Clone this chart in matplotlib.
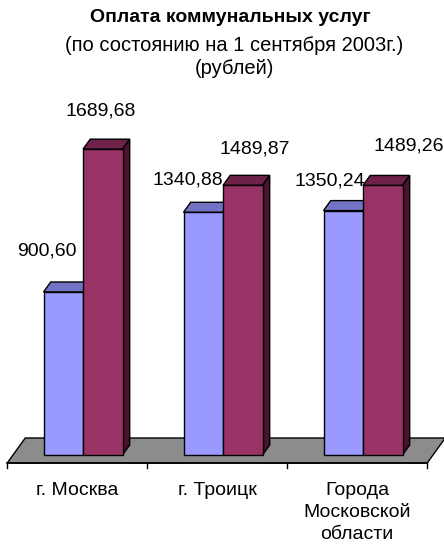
import matplotlib
matplotlib.use('Agg')
import matplotlib.pyplot as plt
from matplotlib.patches import Polygon

plt.rcParams['font.family'] = ['Liberation Sans', 'DejaVu Sans']

# data
categories = ['г. Москва', 'г. Троицк', 'Города\nМосковской\nобласти']
series_blue = [900.60, 1340.88, 1350.24]
series_red = [1689.68, 1489.87, 1489.26]
title = 'Оплата коммунальных услуг'
subtitle = '(по состоянию на 1 сентября 2003г.)\n(рублей)'

# label offsets in pixels (dx, dy) from top-front centre of each bar
off_blue = [(-16, 41), (-15, 32), (-13, 30)]
off_red = [(-2, 38), (12, 36), (26, 39)]

W, H = 444, 554
fig = plt.figure(figsize=(W / 100, H / 100), dpi=100)
ax = fig.add_axes([0, 0, 1, 1])
ax.set_axis_off()

# pixel scales: 140 px per category, 0.181 px per rouble
xpx, ypx = 140.0, 0.181
ax.set_xlim(-83 / xpx, (W - 83) / xpx)
ax.set_ylim(-(H - 455) / ypx, 455 / ypx)

# oblique depth: 18 px right, 25 px up for the full floor depth
ddx, ddy = 18 / xpx, 25 / ypx
bw = 39.5 / xpx
bar_depth = 0.4
front = -0.32  # floor front edge relative to bar fronts
back = 0.68

blue_c, blue_top = '#9999ff', '#7373c6'
red_c, red_top, red_side = '#993366', '#6e2249', '#4a1131'

# floor
n = len(categories)
fl = [(-0.5 + front * ddx, front * ddy), (n - 0.5 + front * ddx, front * ddy),
      (n - 0.5 + back * ddx, back * ddy), (-0.5 + back * ddx, back * ddy)]
ax.add_patch(Polygon(fl, closed=True, facecolor='#8c8c8c', edgecolor='black',
                     lw=1.0, zorder=1))

# axis line with ticks
ax.plot([-0.5 + front * ddx, n - 0.5 + front * ddx], [front * ddy] * 2,
        color='black', lw=1.2, zorder=2)
for i in range(n + 1):
    xt = i - 0.5 + front * ddx
    ax.plot([xt, xt], [front * ddy, front * ddy - 5 / ypx], color='black',
            lw=1.0, zorder=2)


def draw_bar(x0, v, face, top, side, z):
    x1 = x0 + bw
    dx, dy = bar_depth * ddx, bar_depth * ddy
    ax.add_patch(Polygon([(x0, v), (x1, v), (x1 + dx, v + dy), (x0 + dx, v + dy)],
                         facecolor=top, edgecolor='black', lw=1.0, zorder=z))
    ax.add_patch(Polygon([(x1, 0), (x1, v), (x1 + dx, v + dy), (x1 + dx, dy)],
                         facecolor=side, edgecolor='black', lw=1.0, zorder=z))
    ax.bar(x0, v, width=bw, align='edge', color=face, edgecolor='black',
           lw=1.0, zorder=z + 0.5)


for i in range(n):
    draw_bar(i - bw, series_blue[i], blue_c, blue_top, blue_top, 3 + i)
    draw_bar(i, series_red[i], red_c, red_top, red_side, 3.2 + i)

# value labels
for i in range(n):
    for xc, v, off in [(i - bw / 2, series_blue[i], off_blue[i]),
                       (i + bw / 2, series_red[i], off_red[i])]:
        ax.annotate(f'{v:.2f}'.replace('.', ','), (xc, v),
                    xytext=(off[0] * 0.72, off[1] * 0.72),
                    textcoords='offset points', ha='center', va='center',
                    fontsize=14, zorder=10)

# category labels
for i, c in enumerate(categories):
    ax.annotate(c, (i + front * ddx, front * ddy), xytext=(0, -13.5),
                textcoords='offset points', ha='center', va='top',
                fontsize=14, linespacing=1.38)

fig.text(0.518, 1 - 17 / H, title, ha='center', va='center',
         fontsize=14, fontweight='bold')
fig.text(0.527, 1 - 57 / H, subtitle, ha='center', va='center',
         fontsize=14.5, linespacing=1.22)

fig.savefig('out.png', dpi=100, facecolor='white')
